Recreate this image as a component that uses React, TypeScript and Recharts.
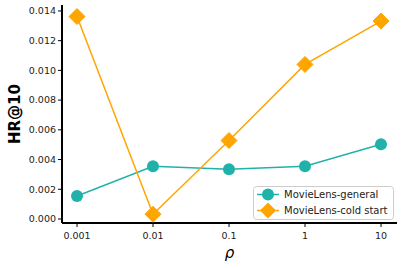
import { Line, LineChart, XAxis, YAxis } from "recharts";

const rhoLabels = ["0.001", "0.01", "0.1", "1", "10"];
const generalValues = [0.00155, 0.00355, 0.00335, 0.00355, 0.00503];
const coldStartValues = [0.01362, 0.00032, 0.00528, 0.01040, 0.01332];
const yTicks = [0, 0.002, 0.004, 0.006, 0.008, 0.01, 0.012, 0.014];

const TEAL = "#20B2AA";
const ORANGE = "#FFA500";
const FONT = "DejaVu Sans, sans-serif";

const data = rhoLabels.map((rho, i) => ({
  rho,
  general: generalValues[i],
  cold: coldStartValues[i],
}));

const tickStyle = { fontSize: 9.5, fill: "#222", fontFamily: FONT };

function Diamond(props: any) {
  const { cx, cy } = props;
  if (cx == null || cy == null) return null;
  const r = 8;
  return (
    <polygon
      points={`${cx},${cy - r} ${cx + r},${cy} ${cx},${cy + r} ${cx - r},${cy}`}
      fill={ORANGE}
      stroke={ORANGE}
    />
  );
}

function LegendBox() {
  const rows = [
    { name: "MovieLens-general", color: TEAL, shape: "circle" },
    { name: "MovieLens-cold start", color: ORANGE, shape: "diamond" },
  ];
  return (
    <svg width={141} height={34} style={{ display: "block" }}>
      <rect x={0.5} y={0.5} width={140} height={33} rx={3} fill="white" fillOpacity={0.85} stroke="#ccc" />
      {rows.map((r, i) => {
        const y = 8.5 + i * 16;
        return (
          <g key={r.name}>
            <line x1={4} x2={26} y1={y} y2={y} stroke={r.color} strokeWidth={1.5} />
            {r.shape === "circle" ? (
              <circle cx={15} cy={y} r={6} fill={r.color} />
            ) : (
              <polygon points={`15,${y - 8} 23,${y} 15,${y + 8} 7,${y}`} fill={r.color} />
            )}
            <text x={31} y={y + 3.5} fontSize={10} fontFamily={FONT} fill="#222">
              {r.name}
            </text>
          </g>
        );
      })}
    </svg>
  );
}

export default function App() {
  return (
    <div style={{ position: "absolute", left: 0, top: 0, width: 403, height: 268, background: "white" }}>
      <LineChart width={403} height={268} data={data} margin={{ top: 5, right: 6, bottom: 0, left: 0 }}>
        <XAxis
          dataKey="rho"
          padding={{ left: 15, right: 16 }}
          tick={{ ...tickStyle, dy: 3 }}
          tickLine={{ stroke: "#000", strokeWidth: 1 }}
          tickSize={4}
          axisLine={{ stroke: "#000", strokeWidth: 2 }}
          label={{ value: "ρ", position: "insideBottom", offset: 10, style: { fontSize: 15, fontStyle: "italic", fontFamily: FONT, fill: "#000" } }}
          height={45}
        />
        <YAxis
          width={62}
          domain={[-0.00027, 0.0144]}
          ticks={yTicks}
          allowDataOverflow
          tickFormatter={(v: number) => v.toFixed(3)}
          tick={tickStyle}
          tickLine={{ stroke: "#000", strokeWidth: 1 }}
          tickSize={4}
          axisLine={{ stroke: "#000", strokeWidth: 2 }}
          label={{
            content: (p: any) => {
              const vb = p.viewBox;
              const cy = vb.y + vb.height / 2;
              return (
                <text
                  x={15}
                  y={cy}
                  transform={`rotate(-90, 15, ${cy})`}
                  textAnchor="middle"
                  dominantBaseline="central"
                  fontSize={15}
                  fontWeight="bold"
                  fontFamily={FONT}
                  fill="#000"
                >
                  HR@10
                </text>
              );
            },
          }}
        />
        <Line
          dataKey="general"
          stroke={TEAL}
          strokeWidth={1.5}
          dot={{ r: 6, fill: TEAL, stroke: TEAL, strokeWidth: 0 }}
          activeDot={false}
          isAnimationActive={false}
        />
        <Line
          dataKey="cold"
          stroke={ORANGE}
          strokeWidth={1.5}
          dot={<Diamond />}
          activeDot={false}
          isAnimationActive={false}
        />
      </LineChart>
      <div style={{ position: "absolute", left: 253, top: 186 }}>
        <LegendBox />
      </div>
    </div>
  );
}
